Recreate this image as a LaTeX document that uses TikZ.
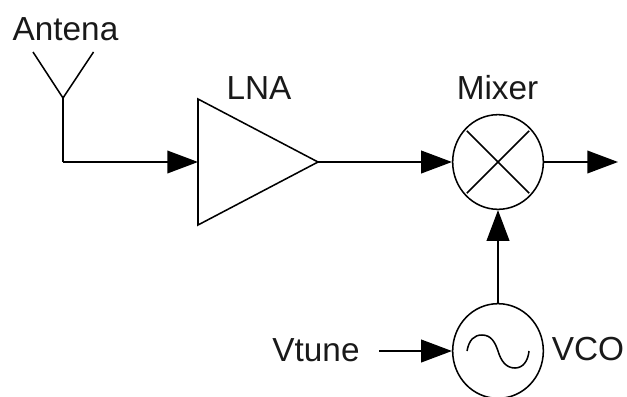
\documentclass[tikz,border=0pt]{standalone}
\usepackage{fontspec}
\setmainfont{Liberation Sans}
\usetikzlibrary{arrows.meta,shapes.geometric}
\tikzset{
  wire/.style={line width=1.15pt,-{Triangle[length=23pt,width=17pt]}},
  plain/.style={line width=1.15pt},
  lbl/.style={font=\fontsize{25pt}{25pt}\selectfont,inner sep=0pt,text=black!90},
  circ/.style={ellipse,draw,line width=1.15pt,minimum width=68pt,minimum height=71pt,inner sep=0pt}
}
\begin{document}
\begin{tikzpicture}[x=0.75pt,y=-0.75pt]
\useasboundingbox (0,0) rectangle (627,396);
\node[lbl] (ant) at (65.5,29) {Antena};
\node[lbl] (lna) at (259,88) {LNA};
\node[lbl] (mix) at (497.5,88) {Mixer};
\node[lbl] (vt) at (316,350) {Vtune};
\node[lbl] (vco) at (588,349) {VCO};
\coordinate (feed) at (63,98);
\coordinate (tl) at (33,52);
\coordinate (tr) at (93.5,52);
\coordinate (bend) at (63,162);
\draw[plain] (tl) -- (feed) -- (tr);
\coordinate (a1) at (198,99);
\coordinate (a2) at (198,225);
\coordinate (a3) at (318,162);
\draw[plain] (a1) -- (a2) -- (a3) -- cycle;
\node[circ] (mx) at (498,162) {};
\node[circ] (osc) at (498,351) {};
\draw[plain,shorten >=2.2pt,shorten <=2.2pt] (mx.45) -- (mx.225);
\draw[plain,shorten >=2.2pt,shorten <=2.2pt] (mx.135) -- (mx.315);
\coordinate (out) at (618,162);
\coordinate (vin) at (379,351);
\draw[plain] (feed) -- (bend);
\draw[wire] (bend) -- (a1 |- bend);
\draw[wire] (a3) -- (mx.west);
\draw[wire] (mx.east) -- (out);
\draw[wire] (osc.north) -- (mx.south);
\draw[wire] (vin) -- (osc.west);
\draw[plain] (467,351) .. controls (469,340) and (474,335) .. (482,335) .. controls (491,335) and (495,342) .. (498,351) .. controls (501,361) and (506,368) .. (515,368) .. controls (523,368) and (528,361) .. (529,351);
\end{tikzpicture}
\end{document}
